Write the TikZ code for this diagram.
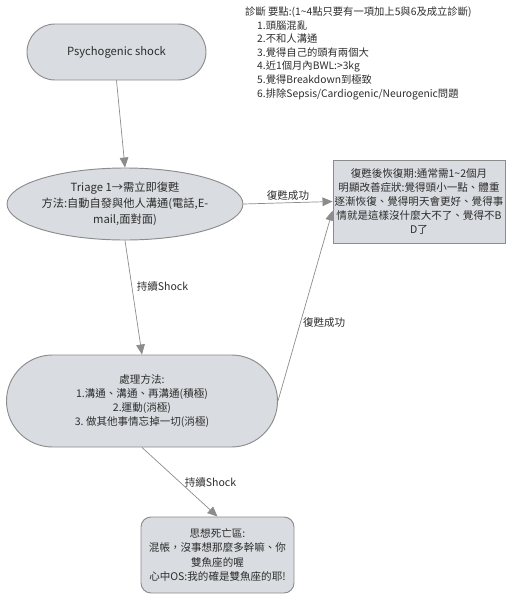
\documentclass[tikz,border=0pt]{standalone}
\usepackage{fontspec}
\setmainfont{Noto Sans CJK TC}
\usepackage{xcolor}
\usetikzlibrary{arrows.meta,shapes.geometric}

\definecolor{boxfill}{RGB}{217,220,224}
\definecolor{boxline}{RGB}{140,140,140}
\definecolor{inktext}{RGB}{45,45,45}

\begin{document}
\begin{tikzpicture}[
  font=\fontsize{9}{12}\selectfont,
  every node/.style={text=inktext},
  block/.style={draw=boxline, fill=boxfill, line width=0.8pt, align=center, inner sep=0pt},
  flow/.style={draw=boxline, line width=0.6pt, -{Triangle[length=3mm,width=2.6mm]}},
  tag/.style={font=\fontsize{9}{10}\selectfont, inner sep=2pt}
]

\useasboundingbox (0,0) rectangle (15.42,-18);

%------------------------------------------------
% Criteria
%------------------------------------------------

\node[anchor=north west, align=left, inner sep=0pt, font=\fontsize{8.8}{11.6}\selectfont] (criteria) at (7.35,-0.2)
  {診斷 要點:(1\textasciitilde 4點只要有一項加上5與6及成立診斷)\\
   \hspace*{0.36cm}1.頭腦混亂\\
   \hspace*{0.36cm}2.不和人溝通\\
   \hspace*{0.36cm}3.覺得自己的頭有兩個大\\
   \hspace*{0.36cm}4.近1個月內BWL:>3kg\\
   \hspace*{0.36cm}5.覺得Breakdown到極致\\
   \hspace*{0.36cm}6.排除Sepsis/Cardiogenic/Neurogenic問題};

%------------------------------------------------
% Boxes
%------------------------------------------------

\node[block, rounded corners=0.84cm, minimum width=5.37cm, minimum height=1.68cm, font=\fontsize{9.6}{12}\selectfont] (shock) at (3.495,-1.56)
  {Psychogenic shock};

\node[block, ellipse, minimum width=7.02cm, minimum height=2.16cm, font=\fontsize{9.6}{13.6}\selectfont] (triage) at (3.75,-6.12)
  {Triage 1→需立即復甦\\方法:自動自發與他人溝通(電話,E-\\mail,面對面)};

\node[block, minimum width=5.16cm, minimum height=2.49cm] (recover) at (12.57,-6.045)
  {復甦後恢復期:通常需1\textasciitilde 2個月\\明顯改善症狀:覺得頭小一點、體重\\逐漸恢復、覺得明天會更好、覺得事\\情就是這樣沒什麼大不了、覺得不B\\D了};

\node[block, rounded corners=1.38cm, minimum width=8.13cm, minimum height=2.76cm] (handle) at (4.26,-12.03)
  {處理方法:\\1.溝通、溝通、再溝通(積極)\\2.運動(消極)\\3.\ 做其他事情忘掉一切(消極)};

\node[block, rounded corners=0.3cm, minimum width=4.59cm, minimum height=2.28cm] (death) at (6.525,-16.65)
  {思想死亡區:\\混帳，沒事想那麼多幹嘛、你\\雙魚座的喔\\心中OS:我的確是雙魚座的耶!};

%------------------------------------------------
% Arrows
%------------------------------------------------

\draw[flow] (shock.south) -- (triage.north);
\draw[flow] (triage.east) -- node[tag, above] {復甦成功} (recover.west);
\draw[flow] (triage.south) -- node[tag, right, pos=0.4, xshift=2pt] {持續Shock} (handle.north);
\draw[flow] (handle.east) -- node[tag, right, pos=0.41] {復甦成功} (recover.186);
\draw[flow] (handle.south) -- node[tag, right, pos=0.5, xshift=2pt] {持續Shock} (death.north);

\end{tikzpicture}
\end{document}
